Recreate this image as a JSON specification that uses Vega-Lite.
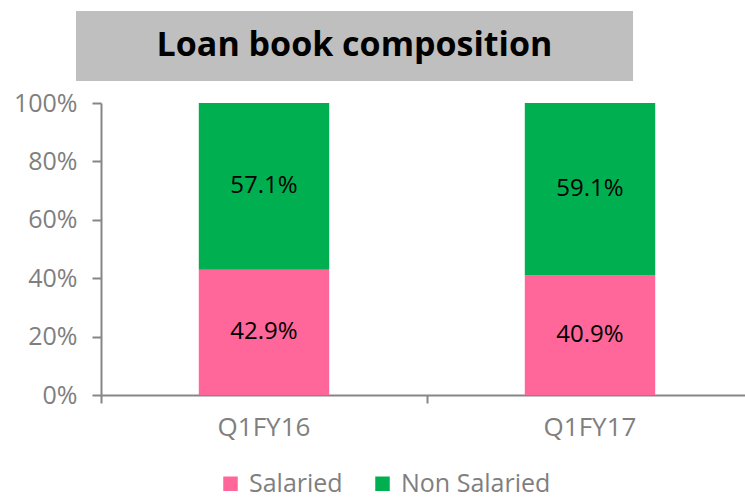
{
  "$schema": "https://vega.github.io/schema/vega-lite/v6.json",
  "autosize": {"type": "pad"},
  "padding": {"left": 13, "top": 11, "right": 0, "bottom": 0},
  "background": "white",
  "spacing": 10,
  "config": {
    "font": "Open Sans",
    "view": {"stroke": null}
  },
  "vconcat": [
    {
      "width": 557,
      "height": 70,
      "view": {"fill": "#bfbfbf", "stroke": null},
      "data": {"values": [{"t": "Loan book composition"}]},
      "mark": {"type": "text", "font": "Open Sans", "fontSize": 34, "fontWeight": "bold", "color": "#000000", "baseline": "middle", "align": "center"},
      "encoding": {
        "text": {"field": "t", "type": "nominal"}
      }
    },
    {
      "width": 669,
      "height": 292,
      "data": {"values": [
        {"q": "Q1FY16", "seg": "Salaried", "v": 0.429},
        {"q": "Q1FY16", "seg": "Non Salaried", "v": 0.571},
        {"q": "Q1FY17", "seg": "Salaried", "v": 0.409},
        {"q": "Q1FY17", "seg": "Non Salaried", "v": 0.591}
      ]},
      "encoding": {
        "x": {"field": "q", "type": "nominal", "scale": {"paddingInner": 0, "paddingOuter": 0, "range": [25, 677]},
          "axis": {"title": null, "labelAngle": 0, "bandPosition": 0, "domainColor": "#868686", "domainWidth": 2, "tickColor": "#868686", "tickWidth": 2, "tickSize": 8, "labelFontSize": 26, "labelColor": "#7f7f7f", "labelPadding": 11, "labelBaseline": "top"}}
      },
      "layer": [
        {
          "mark": {"type": "bar", "width": {"band": 0.4}},
          "encoding": {
            "y": {"field": "v", "type": "quantitative", "stack": "zero", "scale": {"domain": [0, 1], "nice": false},
              "axis": {"title": null, "offset": -25, "format": ".0%", "values": [0, 0.2, 0.4, 0.6, 0.8, 1], "grid": false, "domainColor": "#868686", "domainWidth": 2, "tickColor": "#868686", "tickWidth": 2, "tickSize": 9, "labelFontSize": 25, "labelColor": "#7f7f7f", "labelPadding": 15}},
            "color": {"field": "seg", "type": "nominal", "scale": {"domain": ["Salaried", "Non Salaried"], "range": ["#ff6699", "#00b050"]},
              "legend": {"title": null, "orient": "none", "direction": "horizontal", "legendX": 142, "legendY": 460, "symbolType": "square", "symbolSize": 210, "symbolStrokeWidth": 0, "labelFontSize": 25, "labelColor": "#7f7f7f", "labelOffset": 6, "columnPadding": 27}},
            "order": {"field": "seg", "sort": "descending"}
          }
        },
        {
          "transform": [
            {"stack": "v", "groupby": ["q"], "sort": [{"field": "seg", "order": "descending"}], "as": ["v0", "v1"]},
            {"calculate": "(datum.v0 + datum.v1) / 2", "as": "mid"}
          ],
          "mark": {"type": "text", "fontSize": 24, "color": "#000000", "baseline": "middle"},
          "encoding": {
            "y": {"field": "mid", "type": "quantitative"},
            "text": {"field": "v", "type": "quantitative", "format": ".1%"}
          }
        }
      ]
    }
  ]
}
